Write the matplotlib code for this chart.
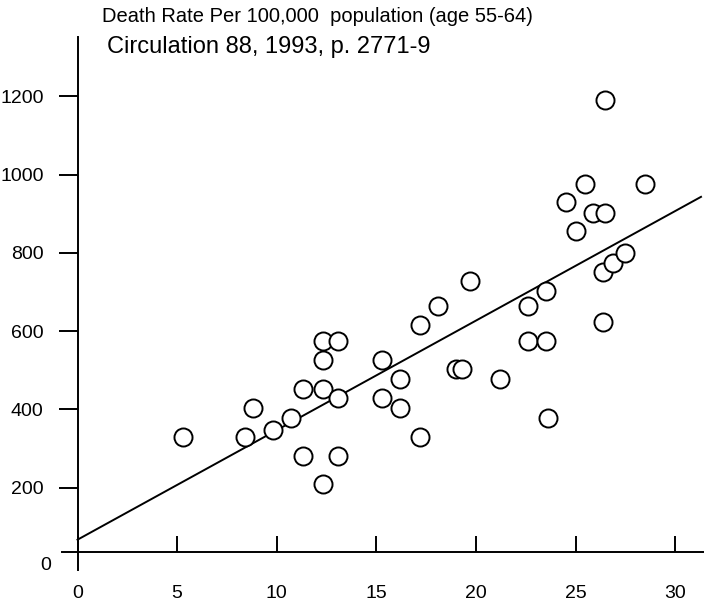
import matplotlib
matplotlib.use("Agg")
import matplotlib.pyplot as plt

plt.rcParams['font.family'] = ['Liberation Sans', 'DejaVu Sans']

# values
x_vals = [5.3, 8.4, 8.8, 9.8, 10.7, 11.3, 11.3, 12.3, 12.3, 12.3, 12.3,
          13.1, 13.1, 13.1, 15.3, 15.3, 16.2, 16.2, 17.2, 17.2, 18.1,
          19.0, 19.3, 19.7, 21.2, 22.6, 22.6, 23.5, 23.5, 23.6, 24.5,
          25.0, 25.5, 25.9, 26.5, 26.5, 26.4, 26.4, 26.9, 27.5, 28.5]
death_rate = [330, 330, 403, 348, 379, 281, 452, 575, 527, 452, 209,
              575, 429, 281, 527, 429, 477, 403, 616, 330, 665,
              503, 503, 727, 477, 665, 575, 703, 575, 378, 929,
              857, 977, 903, 903, 1192, 750, 623, 775, 800, 977]

# regression line as drawn
fit_intercept = 67
fit_slope = 28.0
fit_x = [0, 31.3]
fit_y = [fit_intercept + fit_slope * v for v in fit_x]

x_ticks = [0, 5, 10, 15, 20, 25, 30]
y_ticks = [200, 400, 600, 800, 1000, 1200]

title = "Death Rate Per 100,000  population (age 55-64)"
source = "Circulation 88, 1993, p. 2771-9"

fig = plt.figure(figsize=(7.04, 6.05), dpi=100)
ax = fig.add_axes([61.6 / 704, 35 / 605, (704 - 61.6) / 704, (570 - 37) / 605])

ax.plot(fit_x, fit_y, color='black', lw=1.4, zorder=2)
ax.plot(x_vals, death_rate, ls='none', marker='o', markersize=13,
        mfc='white', mec='black', mew=1.4, zorder=3, clip_on=False)

ax.set_xlim(-0.8, 31.45)
ax.set_ylim(-10.5, 1352)

for s in ['top', 'right']:
    ax.spines[s].set_visible(False)
ax.spines['left'].set_position(('data', 0))
ax.spines['bottom'].set_position(('data', 36.3))
ax.spines['left'].set_linewidth(1.4)
ax.spines['bottom'].set_linewidth(1.4)

ax.set_xticks(x_ticks)
ax.set_yticks(y_ticks)
ax.tick_params(axis='x', direction='in', length=11.5, width=1.4, pad=24, labelsize=14)
ax.tick_params(axis='y', direction='out', length=13.7, width=1.4, pad=10.8, labelsize=14)

ax.text(-1.58, 0, '0', ha='center', va='center', fontsize=14, clip_on=False)

fig.text(102 / 704, 1 - 21.5 / 605, title, ha='left', va='baseline', fontsize=14.5)
fig.text(107 / 704, 1 - 53 / 605, source, ha='left', va='baseline', fontsize=17)

fig.savefig('out.png', dpi=100)
